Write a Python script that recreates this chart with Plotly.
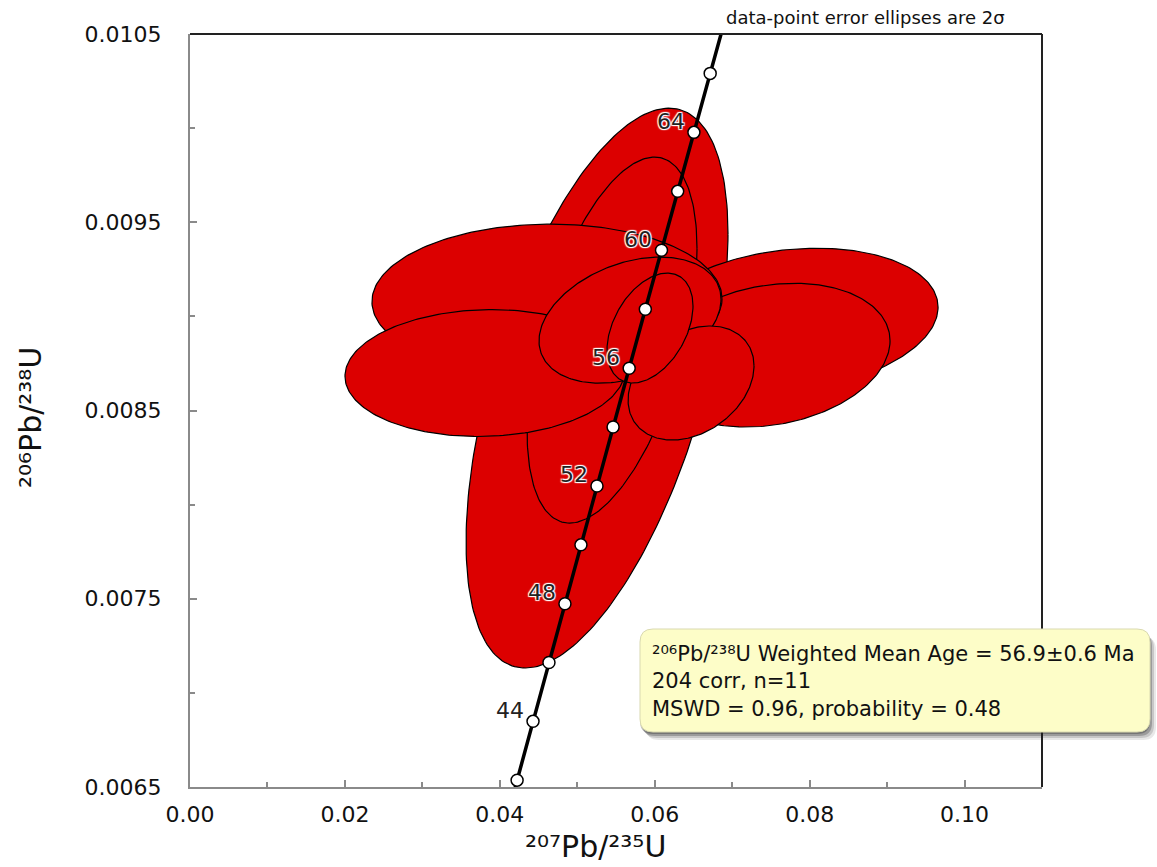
import numpy as np
import plotly.graph_objects as go

# Concordia age ticks (Ma) and the corresponding isotope ratios
tick_age = [42, 44, 46, 48, 50, 52, 54, 56, 58, 60, 62, 64, 66]
tick_r75 = [0.042231, 0.044287, 0.046345, 0.048408, 0.050475, 0.052546, 0.054622,
            0.056701, 0.058785, 0.060873, 0.062964, 0.065059, 0.067159]
tick_r68 = [0.0065364, 0.0068488, 0.0071613, 0.0074738, 0.0077864, 0.0080991, 0.0084119,
            0.0087248, 0.0090378, 0.0093510, 0.0096642, 0.0099775, 0.0102908]
# concordia continued to 41 Ma and 68 Ma so it runs off the frame
end_r75 = [0.041205, 0.069263]
end_r68 = [0.0063800, 0.0106043]
labelled_ages = [44, 48, 52, 56, 60, 64]

# Analyses (drawing order): 207Pb/235U, 206Pb/238U, 2-sigma errors, error correlation
r75 = [0.05255, 0.05449, 0.07747, 0.07489, 0.04609, 0.03809, 0.05681, 0.06469, 0.05939]
r75_err = [0.01691, 0.01097, 0.01911, 0.01549, 0.02260, 0.01808, 0.01175, 0.00813, 0.00555]
r68 = [0.008619, 0.008874, 0.008980, 0.008794, 0.009086, 0.008699, 0.008980, 0.008646, 0.008938]
r68_err = [0.001487, 0.000972, 0.000382, 0.000382, 0.000404, 0.000337, 0.000335, 0.000303, 0.000292]
rho = [0.55, 0.50, 0.18, 0.20, 0.02, 0.05, 0.33, 0.30, 0.40]

FONT = "DejaVu Sans"
RED = "#DC0000"

fig = go.Figure()

# error ellipses
t = np.linspace(0, 2 * np.pi, 241)
for cx, ex, cy, ey, r in zip(r75, r75_err, r68, r68_err, rho):
    ex_pts = cx + ex * np.cos(t)
    ey_pts = cy + ey * (r * np.cos(t) + np.sqrt(1 - r * r) * np.sin(t))
    fig.add_trace(go.Scatter(
        x=ex_pts, y=ey_pts, mode="lines", fill="toself",
        fillcolor=RED, line=dict(color="black", width=1.2),
        hoverinfo="skip",
    ))

# concordia curve
curve_x = [end_r75[0]] + tick_r75 + [end_r75[1]]
curve_y = [end_r68[0]] + tick_r68 + [end_r68[1]]
fig.add_trace(go.Scatter(
    x=curve_x, y=curve_y, mode="lines",
    line=dict(color="black", width=3.5), hoverinfo="skip",
))
fig.add_trace(go.Scatter(
    x=tick_r75, y=tick_r68, mode="markers",
    marker=dict(size=12, color="white", line=dict(color="black", width=1.5)),
    text=[f"{a} Ma" for a in tick_age], hoverinfo="text",
))

# plot area in pixels (for placing frame and decorations in paper units)
L, R, T, B = 190, 1042, 34, 787
W, H = R - L, B - T


def px(x):
    return (x - L) / W


def py(y):
    return (B - y) / H


def rounded_rect(x0, y0, x1, y1, r):
    """Rounded rectangle path in paper units from pixel corners."""
    rx, ry = r / W, r / H
    X0, X1, Y0, Y1 = px(x0), px(x1), py(y1), py(y0)  # Y0 bottom, Y1 top
    return (f"M{X0 + rx},{Y1} L{X1 - rx},{Y1} Q{X1},{Y1} {X1},{Y1 - ry} "
            f"L{X1},{Y0 + ry} Q{X1},{Y0} {X1 - rx},{Y0} "
            f"L{X0 + rx},{Y0} Q{X0},{Y0} {X0},{Y0 + ry} "
            f"L{X0},{Y1 - ry} Q{X0},{Y1} {X0 + rx},{Y1} Z")


shapes = [
    # dark top and right frame edges
    dict(type="line", xref="paper", yref="paper", x0=0, x1=1, y0=1, y1=1,
         line=dict(color="#222222", width=2), layer="above"),
    dict(type="line", xref="paper", yref="paper", x0=1, x1=1, y0=0, y1=1,
         line=dict(color="#222222", width=2), layer="above"),
]
# soft drop shadow of the result box
for k, op in [(8, 0.10), (6, 0.16), (4, 0.26), (2, 0.30)]:
    shapes.append(dict(type="path", xref="paper", yref="paper", layer="above",
                       path=rounded_rect(640 + k - 2, 629 + k, 1150 + k - 2, 732 + k, 13),
                       fillcolor=f"rgba(30,30,30,{op})", line=dict(width=0)))
shapes.append(dict(type="path", xref="paper", yref="paper", layer="above",
                   path=rounded_rect(640, 629, 1150, 732, 13),
                   fillcolor="#FDFDC8", line=dict(color="#D9D9B0", width=1)))

# age labels beside the concordia ticks
halo = ("1px 1px 1px #ffffff, -1px -1px 1px #ffffff, "
        "1px -1px 1px #ffffff, -1px 1px 1px #ffffff")
annotations = []
for a in labelled_ages:
    i = tick_age.index(a)
    annotations.append(dict(
        x=tick_r75[i], y=tick_r68[i], xref="x", yref="y", showarrow=False,
        text=str(a), xanchor="center", yanchor="middle", xshift=-23, yshift=11,
        font=dict(family=FONT, size=22, color="#222222", shadow=halo),
    ))

annotations += [
    dict(xref="paper", yref="paper", x=px(865), y=py(17), showarrow=False,
         text="data-point error ellipses are 2σ",
         font=dict(family=FONT, size=18, color="#111111"),
         xanchor="center", yanchor="middle"),
    dict(xref="paper", yref="paper", x=px(650), y=py(681), showarrow=False,
         text=("²⁰⁶Pb/²³⁸U Weighted Mean Age = 56.9±0.6 Ma<br>"
               "204 corr, n=11<br>MSWD = 0.96, probability = 0.48"),
         align="left", xanchor="left", yanchor="middle",
         font=dict(family=FONT, size=21, color="#111111")),
    dict(xref="paper", yref="paper", x=px(595), y=py(846), showarrow=False,
         text="²⁰⁷Pb/²³⁵U",
         font=dict(family=FONT, size=30, color="#111111"),
         xanchor="center", yanchor="middle"),
    dict(xref="paper", yref="paper", x=px(30), y=py(418), showarrow=False,
         text="²⁰⁶Pb/²³⁸U", textangle=-90,
         font=dict(family=FONT, size=30, color="#111111"),
         xanchor="center", yanchor="middle"),
]

axis_common = dict(
    showgrid=False, zeroline=False, showline=True, linecolor="#8a8a8a", linewidth=2,
    ticks="inside", ticklen=7, tickwidth=1.5, tickcolor="#8a8a8a",
    tickfont=dict(family=FONT, size=22, color="#111111"),
)

fig.update_layout(
    width=1157, height=867,
    margin=dict(l=L, r=1157 - R, t=T, b=867 - B),
    plot_bgcolor="white", paper_bgcolor="white",
    showlegend=False,
    font=dict(family=FONT),
    xaxis=dict(range=[0, 0.11], tick0=0, dtick=0.02, tickformat=".2f",
               minor=dict(dtick=0.01, ticks="inside", ticklen=5, tickcolor="#8a8a8a"),
               ticklabelstandoff=7, **axis_common),
    yaxis=dict(range=[0.0065, 0.0105], tick0=0.0065, dtick=0.001, tickformat=".4f",
               minor=dict(dtick=0.0005, ticks="inside", ticklen=5, tickcolor="#8a8a8a"),
               ticklabelstandoff=22, **axis_common),
    shapes=shapes,
    annotations=annotations,
)

fig.write_html("out.html")
